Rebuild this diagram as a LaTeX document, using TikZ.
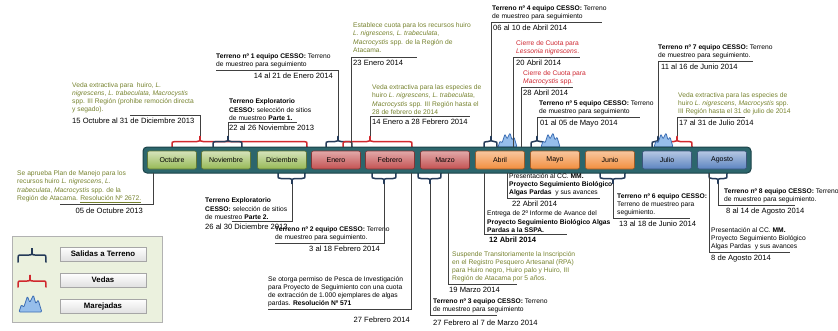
\documentclass[tikz,border=0pt]{standalone}
\usepackage{fontspec}
\setmainfont{Liberation Sans}
\definecolor{barra}{RGB}{44,102,108}
\definecolor{barraborde}{RGB}{26,66,72}
\definecolor{olivo}{RGB}{118,130,46}
\definecolor{rojo}{RGB}{205,38,48}
\definecolor{azulllave}{RGB}{36,58,88}
\definecolor{rojollave}{RGB}{208,40,45}
\definecolor{marfill}{RGB}{150,190,235}
\definecolor{marborde}{RGB}{60,110,180}
\definecolor{leyenda}{RGB}{235,241,222}
\definecolor{mesverde}{RGB}{150,185,85}
\definecolor{mesrojo}{RGB}{196,82,82}
\definecolor{mesnaranja}{RGB}{242,142,62}
\definecolor{mesazul}{RGB}{92,132,192}

% llave: estilo, nombre de la punta, x inicial, x punta, x final, y base, alto
\newcommand{\llave}[7]{%
  \draw[#1] (#3,#6) .. controls ({#3},{#6+(#7)/2}) .. ({#3+3},{#6+(#7)/2})
    -- ({#4-3},{#6+(#7)/2}) .. controls ({#4},{#6+(#7)/2}) .. ({#4},{#6+(#7)}) coordinate (#2)
    .. controls ({#4},{#6+(#7)/2}) .. ({#4+3},{#6+(#7)/2})
    -- ({#5-3},{#6+(#7)/2}) .. controls ({#5},{#6+(#7)/2}) .. (#5,#6);}

\begin{document}
\begin{tikzpicture}
  [x=1pt,y=-1pt,
    mes/.style={draw, rounded corners=2pt, minimum width=49pt, minimum height=18pt,
      inner sep=0pt, line width=0.6pt, font=\fontsize{7}{8}\selectfont},
    verde/.style={top color=mesverde!40!white, bottom color=mesverde, draw=mesverde!65!black},
    rojizo/.style={top color=mesrojo!50!white, bottom color=mesrojo, draw=mesrojo!65!black},
    naranja/.style={top color=mesnaranja!50!white, bottom color=mesnaranja, draw=mesnaranja!65!black},
    azul/.style={top color=mesazul!45!white, bottom color=mesazul, draw=mesazul!65!black},
    barra/.style={draw=barraborde, fill=barra, line width=1pt, rounded corners=4pt,
      minimum width=608pt, minimum height=26pt},
    titulo/.style={inner sep=0pt, align=left, font=\fontsize{6.7}{8.2}\selectfont},
    fecha/.style={inner sep=0pt, font=\fontsize{7.6}{9}\selectfont},
    guia/.style={draw=black!75, line width=0.5pt},
    terreno/.style={draw=azulllave, line width=1.5pt, line cap=round},
    veda/.style={draw=rojollave, line width=1.5pt, line cap=round},
    boton/.style={draw=black!35, top color=white, bottom color=black!12, minimum width=86pt,
      minimum height=14pt, inner sep=0pt, font=\bfseries\fontsize{7.8}{9}\selectfont},
    marejada/.pic={\draw[fill=marfill, draw=marborde, line width=0.8pt, rounded corners=1pt]
      (0,0) -- (2,-6) -- (4,-4) -- (7,-13) -- (9,-8) -- (12,-14) -- (14,-7) -- (16,-10) -- (19,0) -- cycle;},
  ]
  \useasboundingbox (0,0) rectangle (838,330);

  \llave{veda}{vOct}{172}{200}{307}{147}{-11}
  \llave{terreno}{sNov}{213}{228}{242}{147}{-11}
  \llave{terreno}{sEne}{326}{338}{352}{147}{-11}
  \llave{veda}{vEne}{343}{370}{412}{147}{-11}
  \llave{terreno}{sAbr}{484}{491}{497}{147}{-11}
  \llave{terreno}{sMay}{531}{537}{544}{147}{-11}
  \llave{terreno}{sJul}{652}{658}{665}{147}{-11}
  \llave{veda}{vJul}{665}{677}{692}{147}{-11}
  \llave{terreno}{sDic}{278}{292}{305}{173}{11}
  \llave{terreno}{sFeb}{372}{384}{396}{173}{11}
  \llave{terreno}{sMar}{418}{430}{441}{173}{11}
  \llave{terreno}{sJun}{600}{613}{625}{173}{11}
  \llave{terreno}{sAgo}{709}{718}{727}{173}{11}
  \pic at (498,147) {marejada};
  \pic at (541,147) {marejada};
  \pic at (654,147) {marejada};

  \coordinate (c23Ene) at (351,147);
  \coordinate (c20Abr) at (513,147);
  \coordinate (c28Abr) at (521,147);
  \coordinate (c05Oct) at (153,173);
  \coordinate (c27Feb) at (411,173);
  \coordinate (c19Mar) at (448,173);
  \coordinate (c12Abr) at (484,173);
  \coordinate (c22Abr) at (507,173);
  \coordinate (c08Ago) at (709,173);

  \node[barra] (barra) at (447,160) {};
  \node[mes, verde] (oct) at (172,160) {Octubre};
  \node[mes, verde] (nov) at (226,160) {Noviembre};
  \node[mes, verde] (dic) at (282,160) {Diciembre};
  \node[mes, rojizo] (ene) at (336,160) {Enero};
  \node[mes, rojizo] (feb) at (390,160) {Febrero};
  \node[mes, rojizo] (mar) at (445,160) {Marzo};
  \node[mes, naranja] (abr) at (500,160) {Abril};
  \node[mes, naranja] (may) at (555,160) {Mayo};
  \node[mes, naranja] (jun) at (610,160) {Junio};
  \node[mes, azul] (jul) at (667,160) {Julio};
  \node[mes, azul] (ago) at (722,160) {Agosto};

  \node[titulo, text=olivo, anchor=south west] (tVedaOct) at (72,113.5)
    {Veda extractiva para \ huiro, \textit{L.}\\ \textit{nigrescens}, \textit{L. trabeculata}, \textit{Macrocystis}\\
     spp. III Región (prohibe remoción directa\\ y segado).};
  \node[fecha, anchor=north west] (fVedaOct) at (72,117.5) {15 Octubre al 31 de Diciembre 2013};
  \coordinate (rVedaOct) at (130,115);
  \draw[guia] (rVedaOct) -| (vOct);

  \node[titulo, anchor=south west] (tTerr1) at (216,68.5)
    {\textbf{Terreno nº 1 equipo CESSO:} Terreno\\ de muestreo para seguimiento};
  \node[fecha, anchor=north east] (fTerr1) at (333,72.5) {14 al 21 de Enero 2014};
  \coordinate (rTerr1) at (216,70);
  \draw[guia] (rTerr1) -| (sEne);

  \node[titulo, anchor=south west] (tExpl1) at (229,120.5)
    {\textbf{Terreno Exploratorio}\\ \textbf{CESSO:} selección de sitios\\ de muestreo \textbf{Parte 1.}};
  \node[fecha, anchor=north west] (fExpl1) at (229,124.5) {22 al 26 Noviembre 2013};
  \coordinate (rExpl1) at (297,122);
  \draw[guia] (sNov) |- (rExpl1);

  \node[titulo, text=olivo, anchor=south west] (tCuota) at (353,52.5)
    {Establece cuota para los recursos huiro\\ \textit{L. nigrescens, L. trabeculata},\\
     \textit{Macrocystis} spp. de la Región de\\ Atacama.};
  \node[fecha, anchor=north west] (fCuota) at (353,59.5) {23 Enero 2014};
  \coordinate (rCuota) at (417,57);
  \draw[guia] (c23Ene) |- (rCuota);

  \node[titulo, text=olivo, anchor=south west] (tVedaEne) at (372,114.5)
    {Veda extractiva para las especies de\\ huiro \textit{L. nigrescens, L. trabeculata},\\
     \textit{Macrocystis} spp. III Región hasta el\\ 28 de febrero de 2014};
  \node[fecha, anchor=north west] (fVedaEne) at (372,118.5) {14 Enero a 28 Febrero 2014};
  \coordinate (rVedaEne) at (470,116);
  \draw[guia] (vEne) |- (rVedaEne);

  \node[titulo, anchor=south west] (tTerr4) at (492,20.5)
    {\textbf{Terreno nº 4 equipo CESSO:} Terreno\\ de muestreo para seguimiento};
  \node[fecha, anchor=north west] (fTerr4) at (493,24.5) {06 al 10 de Abril 2014};
  \coordinate (rTerr4) at (602,22);
  \draw[guia] (sAbr) |- (rTerr4);

  \node[titulo, text=rojo, anchor=south west] (tLessonia) at (516,55.5)
    {Cierre de Cuota para\\ \textit{Lessonia nigrescens}.};
  \node[fecha, anchor=north west] (fLessonia) at (516,59.5) {20 Abril 2014};
  \coordinate (rLessonia) at (580,57);
  \draw[guia] (c20Abr) |- (rLessonia);

  \node[titulo, text=rojo, anchor=south west] (tMacro) at (523,85.5)
    {Cierre de Cuota para\\ \textit{Macrocystis} spp.};
  \node[fecha, anchor=north west] (fMacro) at (523,89.5) {28 Abril 2014};
  \coordinate (rMacro) at (573,87);
  \draw[guia] (c28Abr) |- (rMacro);

  \node[titulo, anchor=south west] (tTerr5) at (539,115.5)
    {\textbf{Terreno nº 5 equipo CESSO:} Terreno\\ de muestreo para seguimiento};
  \node[fecha, anchor=north west] (fTerr5) at (540,119.5) {01 al 05 de Mayo 2014};
  \coordinate (rTerr5) at (640,117);
  \draw[guia] (sMay) |- (rTerr5);

  \node[titulo, anchor=south west] (tTerr7) at (658,59.5)
    {\textbf{Terreno nº 7 equipo CESSO:} Terreno\\ de muestreo para seguimiento.};
  \node[fecha, anchor=north west] (fTerr7) at (661,63.5) {11 al 16 de Junio 2014};
  \coordinate (rTerr7) at (753,61);
  \draw[guia] (sJul) |- (rTerr7);

  \node[titulo, text=olivo, anchor=south west] (tVedaJul) at (678,115.5)
    {Veda extractiva para las especies de\\ huiro \textit{L. nigrescens}, \textit{Macrocystis} spp.\\
     III Región hasta el 31 de julio de 2014};
  \node[fecha, anchor=north west] (fVedaJul) at (679,119.5) {17 al 31 de Julio 2014};
  \coordinate (rVedaJul) at (745,117);
  \draw[guia] (vJul) |- (rVedaJul);

  \node[titulo, text=olivo, anchor=south west] (tPlan) at (17,202.5)
    {Se aprueba Plan de Manejo para los\\ recursos huiro \textit{L. nigrescens}, \textit{L.}\\
     \textit{trabeculata}, \textit{Macrocystis} spp. de la\\ Región de Atacama. \underline{Resolución Nº 2672.}};
  \node[fecha, anchor=north east] (fPlan) at (143,207.5) {05 de Octubre 2013};
  \coordinate (rPlan) at (60,204);
  \draw[guia] (c05Oct) |- (rPlan);

  \node[titulo, anchor=south west] (tExpl2) at (205,219.5)
    {\textbf{Terreno Exploratorio}\\ \textbf{CESSO:} selección de sitios\\ de muestreo \textbf{Parte 2.}};
  \node[fecha, anchor=north west] (fExpl2) at (205,223.5) {26 al 30 Diciembre 2013};
  \coordinate (rExpl2) at (232,221);
  \draw[guia] (sDic) |- (rExpl2);

  \node[titulo, anchor=south west] (tTerr2) at (275,241.5)
    {\textbf{Terreno nº 2 equipo CESSO:} Terreno\\ de muestreo para seguimiento.};
  \node[fecha, anchor=north east] (fTerr2) at (380,246) {3 al 18 Febrero 2014};
  \coordinate (rTerr2) at (275,243);
  \draw[guia] (sFeb) |- (rTerr2);

  \node[titulo, anchor=south west] (tPesca) at (268,307.5)
    {Se otorga permiso de Pesca de Investigación\\ para Proyecto de Seguimiento con una cuota\\
     de extracción de 1.000 ejemplares de algas\\ pardas. \textbf{Resolución Nº 571}};
  \node[fecha, anchor=north east] (fPesca) at (410,317) {27 Febrero 2014};
  \coordinate (rPesca) at (268,309);
  \draw[guia] (c27Feb) |- (rPesca);

  \node[titulo, text=olivo, anchor=south west] (tRPA) at (452,282.5)
    {Suspende Transitoriamente la Inscripción\\ en el Registro Pesquero Artesanal (RPA)\\
     para Huiro negro, Huiro palo y Huiro, III\\ Región de Atacama por 5 años.};
  \node[fecha, anchor=north west] (fRPA) at (449,287) {19 Marzo 2014};
  \coordinate (rRPA) at (517,284);
  \draw[guia] (c19Mar) |- (rRPA);

  \node[titulo, anchor=south west] (tTerr3) at (433,313.5)
    {\textbf{Terreno nº 3 equipo CESSO:} Terreno\\ de muestreo para seguimiento};
  \node[fecha, anchor=north west] (fTerr3) at (433,319.5) {27 Febrero al 7 de Marzo 2014};
  \coordinate (rTerr3) at (497,315);
  \draw[guia] (sMar) |- (rTerr3);

  \node[titulo, anchor=south west] (tPres1) at (509,196.5)
    {Presentación al CC. \textbf{MM.}\\ \textbf{Proyecto Seguimiento Biológico}\\ \textbf{Algas Pardas} \ y sus avances};
  \node[fecha, anchor=north west] (fPres1) at (512,201) {22 Abril 2014};
  \coordinate (rPres1) at (600,198);
  \draw[guia] (c22Abr) |- (rPres1);

  \node[titulo, anchor=south west] (tInforme) at (487,232.5)
    {Entrega de 2º Informe de Avance del\\ \textbf{Proyecto Seguimiento Biológico Algas}\\ \textbf{Pardas a la SSPA.}};
  \node[fecha, anchor=north west, font=\bfseries\fontsize{7.6}{9}\selectfont] (fInforme) at (489,237) {12 Abril 2014};
  \coordinate (rInforme) at (567,234);
  \draw[guia] (c12Abr) |- (rInforme);

  \node[titulo, anchor=south west] (tTerr6) at (617,216.5)
    {\textbf{Terreno nº 6 equipo CESSO:}\\ Terreno de muestreo para\\ seguimiento.};
  \node[fecha, anchor=north west] (fTerr6) at (619,221) {13 al 18 de Junio 2014};
  \coordinate (rTerr6) at (690,218);
  \draw[guia] (sJun) |- (rTerr6);

  \node[titulo, anchor=south west] (tTerr8) at (724,203.5)
    {\textbf{Terreno nº 8 equipo CESSO:} Terreno\\ de muestreo para seguimiento.};
  \node[fecha, anchor=north west] (fTerr8) at (726,208) {8 al 14 de Agosto 2014};
  \coordinate (rTerr8) at (795,205);
  \draw[guia] (sAgo) |- (rTerr8);

  \node[titulo, anchor=south west] (tPres2) at (711,250.5)
    {Presentación al CC. \textbf{MM.}\\ Proyecto Seguimiento Biológico\\ Algas Pardas \ y sus avances};
  \node[fecha, anchor=north west] (fPres2) at (711,255) {8 de Agosto 2014};
  \coordinate (rPres2) at (790,252);
  \draw[guia] (c08Ago) |- (rPres2);

  \node[draw=black!30, fill=leyenda, minimum width=150pt, minimum height=86pt] (leyenda) at (87,279) {};
  \llave{terreno}{lTerreno}{18}{32}{46}{262}{-14}
  \llave{veda}{lVeda}{18}{30}{46}{287}{-12}
  \pic[scale=1.2] at (19,312) {marejada};
  \node[boton] (bSalidas) at (103,254) {Salidas a Terreno};
  \node[boton] (bVedas) at (103,280) {Vedas};
  \node[boton] (bMarejadas) at (103,306) {Marejadas};
\end{tikzpicture}
\end{document}
